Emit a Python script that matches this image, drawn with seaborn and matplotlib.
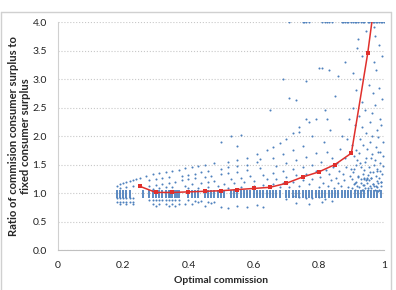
import pandas as pd
import seaborn as sns
import matplotlib.pyplot as plt
from matplotlib.lines import Line2D

# averaged curve (red)
line_x = [0.25, 0.30, 0.35, 0.40, 0.45, 0.50, 0.55, 0.60, 0.65, 0.70, 0.75, 0.80, 0.85, 0.90, 0.95, 1.00]
line_y = [1.12, 1.01, 1.01, 1.02, 1.03, 1.04, 1.06, 1.08, 1.10, 1.17, 1.28, 1.37, 1.50, 1.70, 3.45, 5.60]

# dense stacks of simulations sitting around ratio 1.0
column_x = [0.18, 0.19, 0.20, 0.21, 0.22, 0.26, 0.28, 0.29, 0.30, 0.31, 0.32, 0.33, 0.34, 0.345,
            0.35, 0.36, 0.365, 0.37, 0.40, 0.41, 0.42, 0.43, 0.45, 0.46, 0.47, 0.48, 0.49, 0.50,
            0.51, 0.53, 0.54, 0.55, 0.56, 0.57, 0.58, 0.59, 0.60, 0.61, 0.62, 0.63, 0.64, 0.65,
            0.66, 0.67, 0.68, 0.70, 0.71, 0.72, 0.73, 0.74, 0.75, 0.76, 0.77, 0.78, 0.79, 0.80,
            0.81, 0.82, 0.83, 0.84, 0.85, 0.86, 0.87, 0.88, 0.89, 0.90, 0.91, 0.92, 0.93, 0.94,
            0.95, 0.96, 0.97, 0.98, 0.99]
column_level = 0.99

# points below 1.0
low_x = [0.18, 0.19, 0.20, 0.21, 0.22, 0.23, 0.18, 0.19, 0.20, 0.21, 0.22, 0.23, 0.19, 0.21, 0.23,
         0.28, 0.29, 0.30, 0.31, 0.32, 0.33, 0.34, 0.35, 0.36, 0.37, 0.29, 0.31, 0.33, 0.35, 0.37,
         0.39, 0.41, 0.30, 0.34, 0.36, 0.42, 0.44, 0.46, 0.48, 0.45, 0.50, 0.52, 0.55, 0.58, 0.61,
         0.63, 0.40, 0.43, 0.47, 0.72, 0.74, 0.76, 0.78, 0.80, 0.82, 0.84, 0.73, 0.77, 0.81, 0.70]
low_y = [0.91, 0.91, 0.91, 0.91, 0.91, 0.91, 0.85, 0.85, 0.85, 0.85, 0.85, 0.85, 0.80, 0.80, 0.80,
         0.88, 0.88, 0.88, 0.88, 0.88, 0.88, 0.88, 0.88, 0.88, 0.88, 0.80, 0.80, 0.80, 0.80, 0.80,
         0.80, 0.80, 0.77, 0.77, 0.77, 0.86, 0.86, 0.85, 0.84, 0.77, 0.76, 0.74, 0.78, 0.76, 0.79,
         0.75, 0.88, 0.84, 0.82, 0.94, 0.93, 0.92, 0.91, 0.93, 0.90, 0.86, 0.82, 0.80, 0.84, 0.90]

# scattered points above 1.0, low and middle commissions
fan_x = [0.18, 0.19, 0.20, 0.21, 0.22, 0.23, 0.24, 0.25, 0.19, 0.21, 0.23,
         0.27, 0.29, 0.31, 0.33, 0.35, 0.28, 0.30, 0.32, 0.34, 0.28, 0.30, 0.32, 0.34, 0.36,
         0.29, 0.31, 0.33, 0.35,
         0.37, 0.39, 0.41, 0.43, 0.38, 0.40, 0.42, 0.44, 0.46, 0.38, 0.40, 0.42, 0.45, 0.47,
         0.39, 0.41, 0.44, 0.46, 0.48, 0.40, 0.43, 0.46, 0.49, 0.45, 0.48, 0.50, 0.50,
         0.52, 0.55, 0.58, 0.61, 0.64, 0.52, 0.55, 0.58, 0.61, 0.52, 0.55, 0.58, 0.62,
         0.53, 0.56, 0.59, 0.63, 0.51, 0.54, 0.57, 0.60, 0.64, 0.52, 0.56, 0.60, 0.63,
         0.50, 0.62, 0.55, 0.53, 0.56,
         0.66, 0.68, 0.70, 0.72, 0.66, 0.69, 0.72, 0.75, 0.67, 0.70, 0.73, 0.76, 0.79,
         0.66, 0.69, 0.72, 0.75, 0.78, 0.67, 0.70, 0.73, 0.76, 0.79, 0.66, 0.69, 0.72, 0.75,
         0.78, 0.68, 0.71, 0.74, 0.77, 0.65, 0.74, 0.78, 0.71, 0.73, 0.74, 0.69, 0.77,
         0.76, 0.79, 0.80, 0.825, 0.76, 0.83]
fan_y = [1.12, 1.15, 1.17, 1.19, 1.21, 1.23, 1.25, 1.27, 1.08, 1.10, 1.12,
         1.30, 1.33, 1.35, 1.37, 1.39, 1.22, 1.24, 1.26, 1.28, 1.12, 1.14, 1.16, 1.18, 1.20,
         1.07, 1.08, 1.10, 1.11,
         1.41, 1.43, 1.45, 1.47, 1.30, 1.32, 1.34, 1.36, 1.38, 1.22, 1.24, 1.26, 1.28, 1.30,
         1.13, 1.15, 1.17, 1.19, 1.21, 1.08, 1.09, 1.10, 1.12, 1.50, 1.52, 1.42, 1.33,
         1.55, 1.58, 1.62, 1.68, 1.75, 1.45, 1.47, 1.50, 1.54, 1.35, 1.37, 1.40, 1.43,
         1.25, 1.27, 1.29, 1.32, 1.15, 1.17, 1.19, 1.21, 1.24, 1.09, 1.10, 1.12, 1.14,
         1.90, 1.60, 1.83, 2.00, 2.02,
         1.80, 1.88, 1.95, 2.05, 1.62, 1.68, 1.75, 1.82, 1.48, 1.52, 1.58, 1.63, 1.70,
         1.35, 1.38, 1.42, 1.46, 1.50, 1.25, 1.28, 1.31, 1.34, 1.38, 1.16, 1.18, 1.20, 1.22,
         1.25, 1.10, 1.11, 1.13, 1.15, 2.45, 2.15, 2.00, 2.67, 2.63, 2.07, 3.00, 2.25,
         2.96, 2.30, 3.20, 2.30, 2.30, 3.15]

# scattered points above 1.0, high commissions
high_x = [0.801, 0.804, 0.807, 0.812, 0.815, 0.821, 0.824, 0.828, 0.832, 0.835, 0.838, 0.842,
          0.845, 0.848, 0.852, 0.855, 0.858, 0.861, 0.864, 0.867, 0.871, 0.874, 0.877, 0.880,
          0.883, 0.886, 0.889, 0.892, 0.895, 0.898, 0.82, 0.85, 0.81, 0.86, 0.88,
          0.902, 0.904, 0.906, 0.908, 0.911, 0.913, 0.915, 0.917, 0.919, 0.922, 0.924, 0.926,
          0.928, 0.931, 0.933, 0.935, 0.937, 0.939, 0.941, 0.943, 0.945, 0.947, 0.949, 0.951,
          0.953, 0.955, 0.957, 0.959, 0.961, 0.963, 0.965, 0.967, 0.969, 0.971, 0.973, 0.975,
          0.977, 0.979, 0.981, 0.983, 0.985, 0.987, 0.989, 0.991, 0.993, 0.995, 0.997,
          0.903, 0.909, 0.914, 0.921, 0.927, 0.932, 0.938, 0.944, 0.948, 0.954, 0.958, 0.962,
          0.966, 0.972, 0.976, 0.982, 0.986, 0.992, 0.996,
          0.905, 0.912, 0.918, 0.925, 0.934, 0.942, 0.946, 0.952, 0.956, 0.964, 0.968, 0.974,
          0.978, 0.984, 0.988, 0.994, 0.907, 0.923, 0.936, 0.950, 0.960, 0.970, 0.980, 0.990,
          0.916, 0.929, 0.940, 0.961, 0.975, 0.983, 0.998, 0.910, 0.930, 0.945, 0.965, 0.985,
          0.901, 0.920, 0.940, 0.957, 0.971, 0.988, 0.913, 0.947, 0.969, 0.991, 0.979, 0.935]
high_y = [1.10, 1.28, 1.55, 1.18, 1.90, 1.40, 1.72, 1.13, 1.33, 2.10, 1.22, 1.62,
          1.45, 1.08, 1.27, 1.52, 1.17, 1.38, 1.78, 1.12, 2.00, 1.33, 1.22, 1.62,
          1.45, 1.95, 1.10, 2.30, 1.30, 1.42, 2.45, 2.70, 3.20, 3.05, 3.30,
          1.08, 2.50, 1.36, 1.65, 1.05, 2.80, 1.20, 1.58, 1.30, 1.10, 2.35, 1.52,
          1.18, 1.06, 3.40, 1.34, 1.85, 1.24, 1.09, 1.55, 3.85, 1.27, 1.78, 1.05,
          1.45, 1.22, 2.25, 1.62, 1.08, 2.40, 1.37, 1.16, 3.30, 1.06, 1.58, 1.30,
          2.10, 1.21, 1.04, 1.72, 1.27, 2.30, 1.52, 1.12, 2.65, 1.33, 1.48,
          1.85, 1.42, 1.75, 1.28, 1.95, 2.15, 1.40, 2.05, 1.17, 2.90, 1.90, 1.68,
          2.75, 2.55, 3.15, 1.98, 2.85, 1.20, 1.90,
          3.10, 2.20, 3.55, 3.00, 2.60, 2.45, 1.62, 1.32, 1.12, 2.00, 1.50, 1.80,
          1.42, 3.60, 1.38, 3.40, 1.15, 1.70, 1.14, 1.09, 1.26, 1.13, 1.10, 1.20,
          1.12, 1.24, 1.14, 1.26, 1.13, 1.18, 1.65, 1.18, 1.46, 1.22, 1.16, 1.05,
          1.25, 3.70, 1.27, 1.37, 3.75, 1.72, 1.50, 1.25, 3.92, 2.20, 1.38, 1.06]

# simulations capped at the top of the axis
cap_x = [0.71, 0.75, 0.755, 0.76, 0.77, 0.81, 0.82, 0.825, 0.83, 0.84, 0.87, 0.875, 0.88,
         0.885, 0.89, 0.90, 0.905, 0.91, 0.915, 0.92, 0.93, 0.935, 0.94, 0.95, 0.955, 0.96,
         0.965, 0.97, 0.975, 0.98, 0.985, 0.99, 0.995, 1.0]
cap_level = 4.0

points = pd.DataFrame({
    "x": low_x + fan_x + high_x + cap_x,
    "y": low_y + fan_y + high_y + [cap_level] * len(cap_x),
})
columns = pd.DataFrame({"x": column_x, "y": [column_level] * len(column_x)})
curve = pd.DataFrame({"x": line_x, "y": line_y})

sns.set_style("white")
plt.rcParams['font.family'] = ['Lato', 'DejaVu Sans']

blue = '#4f81bd'
fig = plt.figure(figsize=(3.96, 2.90), dpi=100)
ax = fig.add_axes([0.1465, 0.1379, 0.8232, 0.7862])

sns.scatterplot(data=columns, x="x", y="y", marker='|', s=30, linewidth=1.3,
                color=blue, ax=ax, zorder=2)
sns.scatterplot(data=points, x="x", y="y", s=2.2, linewidth=0, color=blue, ax=ax, zorder=2)
sns.lineplot(data=curve, x="x", y="y", color='#e0302c', linewidth=1.1, marker='s',
             markersize=2.2, markeredgewidth=0, ax=ax, zorder=3)

ax.set_xlim(0, 1)
ax.set_ylim(0, 4.0)
ax.set_xticks([0, 0.2, 0.4, 0.6, 0.8, 1.0])
ax.set_xticklabels(['0', '0.2', '0.4', '0.6', '0.8', '1'])
ax.set_yticks([0, 0.5, 1.0, 1.5, 2.0, 2.5, 3.0, 3.5, 4.0])
ax.set_yticklabels(['0.0', '0.5', '1.0', '1.5', '2.0', '2.5', '3.0', '3.5', '4.0'])
ax.yaxis.grid(True, linestyle=':', color='#c8c8c8', linewidth=0.8)
ax.set_axisbelow(True)

for side in ['top', 'right']:
    ax.spines[side].set_visible(False)
ax.spines['left'].set_color('#d0d0d0')
ax.spines['bottom'].set_color('#c0c0c0')
ax.spines['left'].set_linewidth(0.8)
ax.spines['bottom'].set_linewidth(0.8)
ax.tick_params(axis='x', direction='inout', length=4, color='#c0c0c0', labelsize=7.5,
               labelcolor='#222222', pad=6)
ax.tick_params(axis='y', length=0, labelsize=7.5, labelcolor='#222222', pad=8)

ax.set_xlabel('Optimal commission', fontsize=7.5, fontweight='bold', labelpad=4)
ax.set_ylabel('Ratio of commision consumer surplus to\nfixed consumer surplus', fontsize=8.1,
              fontweight='bold', linespacing=1.1)
ax.yaxis.set_label_coords(-0.082, 0.5)

# chart frame
frame = dict(color='#d0d0d0', linewidth=1.0, transform=fig.transFigure)
fig.add_artist(Line2D([0.002, 0.987], [0.957, 0.957], **frame))
fig.add_artist(Line2D([0.002, 0.002], [0.0, 0.957], **frame))
fig.add_artist(Line2D([0.987, 0.987], [0.0, 0.957], **frame))

fig.savefig('out.png', dpi=100)
